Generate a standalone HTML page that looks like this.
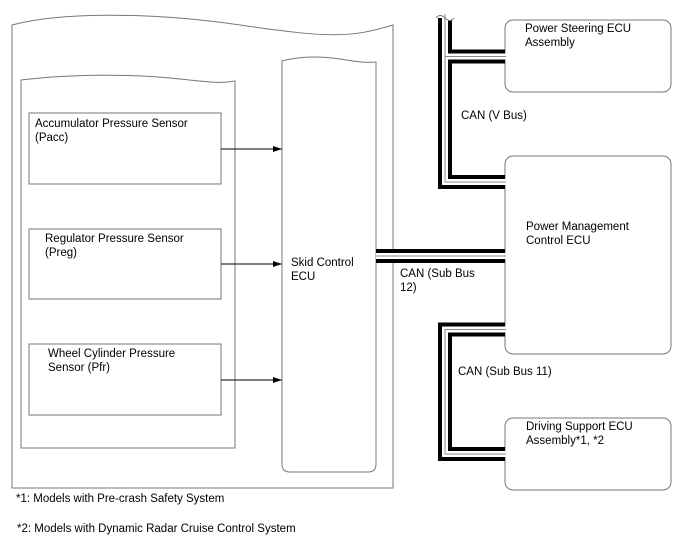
<!DOCTYPE html>
<html><head><meta charset="utf-8"><style>
body{margin:0;background:#fff}
svg{display:block}
text{font-family:"Liberation Sans",sans-serif;font-size:11.5px;fill:#000}
</style></head><body>
<svg width="688" height="560" viewBox="0 0 688 560" xmlns="http://www.w3.org/2000/svg">
<defs><marker id="a" markerWidth="10" markerHeight="8" refX="9" refY="4" orient="auto" markerUnits="userSpaceOnUse"><path d="M0,1 L9,4 L0,7 Z" fill="#000"/></marker></defs>
<g fill="none" stroke="#777" stroke-width="1">
<path d="M12,25 C60,12 150,12 240,25 S350,38 393,25 V488 H12 Z"/>
<path d="M21,80 C70,74 130,74 170,78 S220,84 235,81 V448 H21 Z"/>
<path d="M282,61 C300,56 320,56 340,59 S365,63 376,62 V464 Q376,472 368,472 H290 Q282,472 282,464 Z"/>
<rect x="29" y="113" width="192" height="71"/>
<rect x="29" y="229" width="192" height="70"/>
<rect x="29" y="344" width="192" height="71"/>
<rect x="505" y="20" width="166" height="72" rx="8"/>
<rect x="505" y="156" width="166" height="198" rx="8"/>
<rect x="505" y="418" width="166" height="72" rx="8"/>
</g>
<g stroke="#000" stroke-width="1" marker-end="url(#a)">
<line x1="221" y1="149" x2="282" y2="149"/>
<line x1="221" y1="264" x2="282" y2="264"/>
<line x1="221" y1="380" x2="282" y2="380"/>
</g>
<g fill="none" stroke-linejoin="miter" stroke-linecap="butt">
<g stroke="#000" stroke-width="14">
<path d="M445,18 V182 H505"/><path d="M445,56.5 H505"/>
<path d="M376,256 H505"/>
<path d="M505,329.5 H445 V454 H505"/>
</g>
<g stroke="#fff" stroke-width="6">
<path d="M445,14 V182 H506"/><path d="M445,56.5 H506"/>
<path d="M376,256 H506"/>
<path d="M506,329.5 H445 V454 H506"/>
</g>
<g stroke="#888" stroke-width="1">
<path d="M445,14 V182 H506"/><path d="M445,56.5 H506"/>
<path d="M376,256 H506"/>
<path d="M506,329.5 H445 V454 H506"/>
</g>
</g>
<path d="M436,18 q4,-5 9,0 t9,0" fill="#fff" stroke="#777"/>
<text x="35" y="127">Accumulator Pressure Sensor</text><text x="35" y="141">(Pacc)</text>
<text x="45" y="242">Regulator Pressure Sensor</text><text x="45" y="256">(Preg)</text>
<text x="48" y="357">Wheel Cylinder Pressure</text><text x="48" y="371">Sensor (Pfr)</text>
<text x="291" y="266">Skid Control</text><text x="291" y="280">ECU</text>
<text x="525" y="32">Power Steering ECU</text><text x="525" y="46">Assembly</text>
<text x="526" y="230">Power Management</text><text x="526" y="244">Control ECU</text>
<text x="526" y="430">Driving Support ECU</text><text x="526" y="444">Assembly*1, *2</text>
<text x="461" y="119">CAN (V Bus)</text>
<text x="400" y="277">CAN (Sub Bus</text><text x="400" y="291">12)</text>
<text x="458" y="375">CAN (Sub Bus 11)</text>
<text x="16" y="502">*1: Models with Pre-crash Safety System</text>
<text x="17" y="532">*2: Models with Dynamic Radar Cruise Control System</text>
</svg>
</body></html>
